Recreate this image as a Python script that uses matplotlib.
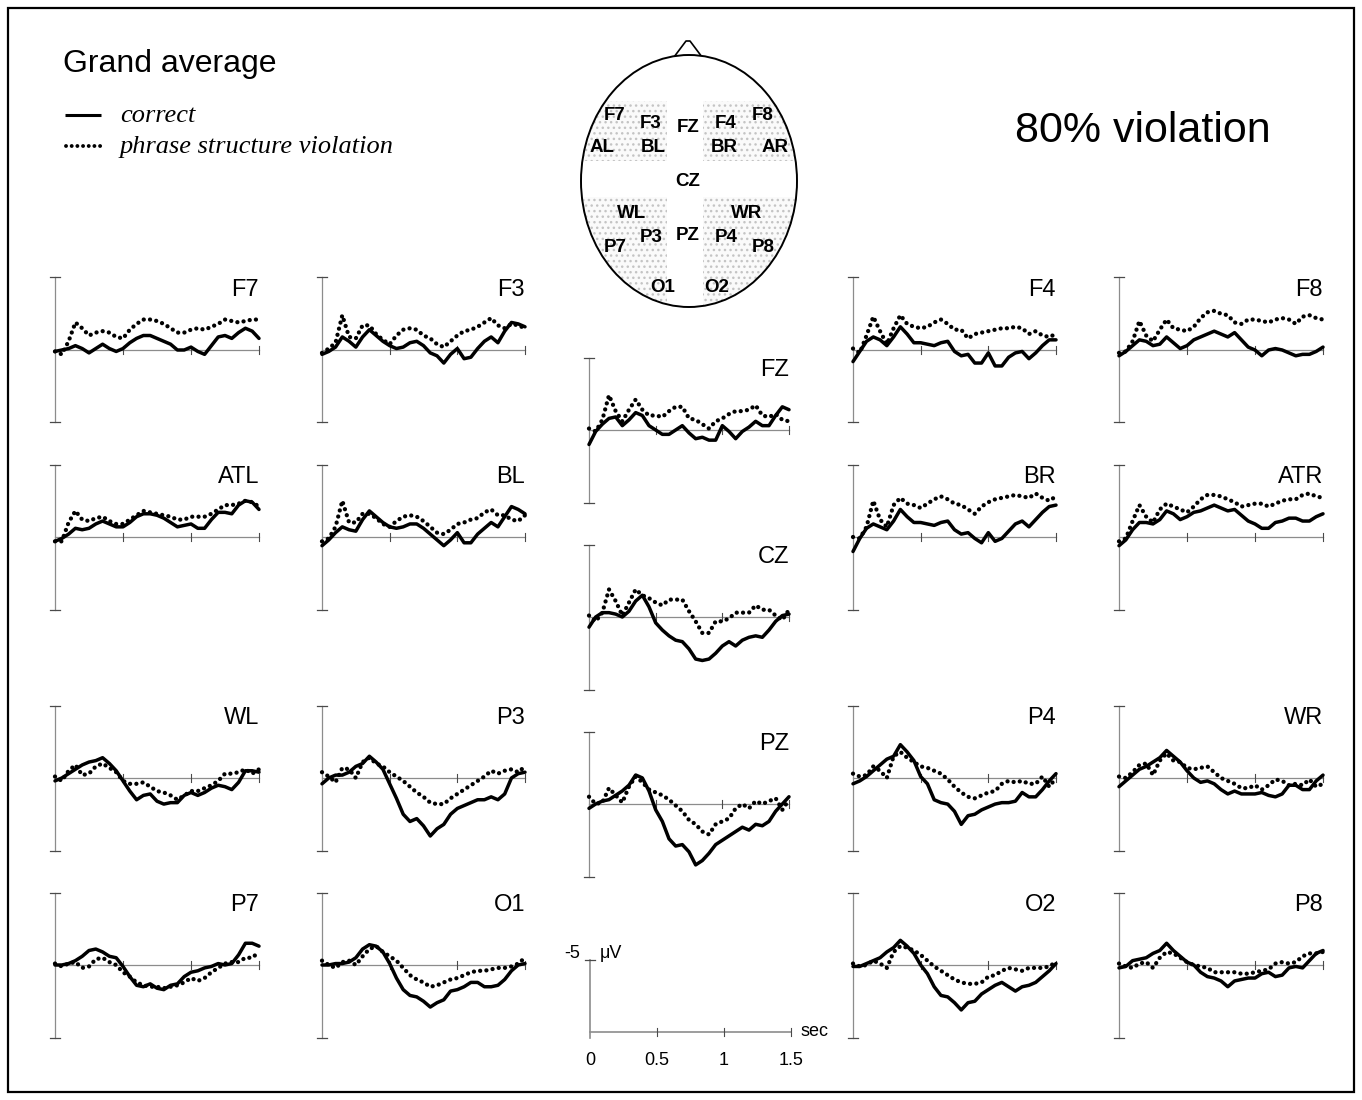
import numpy as np
import matplotlib
matplotlib.use("Agg")
import matplotlib.pyplot as plt
from matplotlib.patches import Ellipse, Rectangle, Polygon

# ---------------- data (µV, negative plotted upward) ----------------
TIME = np.round(np.arange(31) * 0.05, 2)   # 0 ... 1.5 s

F7_correct = [0.1, 0.0, -0.1, -0.3, -0.1, 0.2, -0.1, -0.4, -0.1, 0.1, -0.1, -0.5, -0.8, -1.0, -1.0, -0.8, -0.6, -0.4, 0.0, 0.0, -0.2, 0.1, 0.3, -0.3, -0.9, -1.0, -0.8, -1.2, -1.5, -1.3, -0.8]
F7_violation = [0.1, 0.3, -0.6, -1.9, -1.5, -1.0, -1.2, -1.3, -1.2, -0.9, -0.8, -1.4, -1.8, -2.1, -2.1, -2.0, -1.8, -1.5, -1.2, -1.2, -1.4, -1.5, -1.4, -1.6, -1.8, -2.1, -2.0, -1.9, -2.0, -2.1, -2.1]
F3_correct = [0.3, 0.1, -0.2, -0.9, -0.6, -0.2, -0.9, -1.4, -1.0, -0.6, -0.3, -0.1, -0.2, -0.5, -0.6, -0.3, 0.2, 0.4, 0.9, 0.3, -0.1, 0.6, 0.5, -0.1, -0.6, -0.9, -0.5, -1.3, -1.9, -1.8, -1.6]
F3_violation = [0.2, -0.1, -0.5, -2.4, -0.9, -0.8, -1.7, -1.7, -1.1, -0.7, -0.4, -1.0, -1.4, -1.5, -1.4, -1.0, -0.8, -0.4, -0.2, -0.6, -1.0, -1.3, -1.4, -1.6, -1.9, -2.2, -1.7, -1.5, -1.8, -1.7, -1.5]
ATL_correct = [0.3, 0.1, -0.2, -0.6, -0.5, -0.6, -0.9, -1.1, -0.9, -0.7, -0.7, -1.0, -1.4, -1.6, -1.6, -1.5, -1.3, -1.0, -0.7, -0.8, -0.9, -0.6, -0.6, -1.2, -1.7, -1.7, -1.6, -2.2, -2.5, -2.4, -1.9]
ATL_violation = [0.3, 0.3, -1.0, -1.8, -1.2, -1.1, -1.3, -1.4, -1.1, -0.9, -0.9, -1.2, -1.5, -1.8, -1.7, -1.6, -1.5, -1.4, -1.2, -1.2, -1.4, -1.4, -1.4, -1.6, -1.9, -2.2, -2.2, -2.3, -2.5, -2.4, -2.1]
BL_correct = [0.6, 0.2, -0.3, -0.7, -0.5, -0.4, -1.2, -1.8, -1.4, -1.0, -0.7, -0.6, -0.7, -0.9, -0.9, -0.6, -0.2, 0.2, 0.6, 0.2, -0.3, 0.4, 0.4, -0.2, -0.6, -1.0, -0.7, -1.4, -2.1, -1.9, -1.6]
BL_violation = [0.3, 0.1, -0.7, -2.5, -1.0, -1.0, -1.6, -1.6, -1.3, -0.9, -0.7, -1.1, -1.4, -1.5, -1.4, -1.1, -0.7, -0.3, -0.2, -0.5, -0.9, -1.0, -1.2, -1.3, -1.7, -1.9, -1.5, -1.5, -1.2, -1.1, -1.5]
F4_correct = [0.8, 0.1, -0.6, -0.9, -0.7, -0.3, -0.9, -1.6, -1.1, -0.5, -0.5, -0.4, -0.3, -0.5, -0.6, 0.1, 0.4, 0.3, 0.9, 0.9, 0.2, 1.1, 1.1, 0.5, 0.2, 0.1, 0.6, 0.2, -0.3, -0.7, -0.7]
F4_violation = [-0.1, 0.2, -1.0, -2.3, -1.3, -0.4, -1.5, -2.4, -1.8, -1.6, -1.5, -1.6, -1.9, -2.1, -1.8, -1.4, -1.4, -0.8, -1.1, -1.2, -1.3, -1.4, -1.5, -1.5, -1.6, -1.5, -1.1, -1.3, -1.0, -0.9, -1.1]
F8_correct = [0.4, 0.1, -0.3, -0.7, -0.6, -0.3, -0.4, -0.9, -0.5, -0.1, -0.3, -0.7, -0.9, -1.1, -1.3, -1.1, -0.9, -1.2, -0.7, -0.2, 0.0, 0.4, 0.0, -0.1, 0.0, 0.2, 0.4, 0.3, 0.3, 0.1, -0.2]
F8_violation = [0.2, 0.1, -0.6, -2.0, -1.0, -0.6, -1.4, -2.1, -1.5, -1.4, -1.3, -1.6, -2.2, -2.6, -2.7, -2.5, -2.4, -1.9, -1.8, -2.1, -2.1, -2.0, -1.9, -2.1, -2.2, -2.1, -1.8, -2.3, -2.4, -2.2, -2.1]
BR_correct = [1.0, 0.1, -0.6, -0.9, -0.7, -0.5, -1.1, -1.9, -1.4, -1.0, -1.0, -0.9, -0.8, -1.0, -1.1, -0.5, -0.2, -0.3, 0.1, 0.4, -0.3, 0.3, 0.1, -0.4, -0.9, -1.1, -0.7, -1.2, -1.7, -2.1, -2.2]
BR_violation = [0.0, 0.1, -0.7, -2.5, -1.2, -0.7, -2.2, -2.7, -2.3, -2.2, -2.0, -2.3, -2.6, -2.8, -2.6, -2.3, -2.2, -1.9, -1.6, -2.1, -2.4, -2.6, -2.7, -2.8, -2.9, -2.8, -2.7, -3.0, -2.7, -2.5, -2.8]
ATR_correct = [0.6, 0.2, -0.5, -1.0, -1.0, -0.9, -1.2, -1.8, -1.6, -1.2, -1.4, -1.7, -1.8, -2.0, -2.2, -2.0, -1.8, -1.9, -1.5, -1.1, -0.9, -0.6, -0.6, -1.0, -1.1, -1.3, -1.3, -1.1, -1.1, -1.4, -1.6]
ATR_violation = [0.3, 0.1, -1.1, -2.2, -1.4, -1.0, -1.9, -2.3, -2.1, -1.9, -1.7, -2.1, -2.6, -2.9, -2.9, -2.8, -2.6, -2.4, -2.1, -2.2, -2.3, -2.3, -2.1, -2.3, -2.5, -2.6, -2.6, -2.9, -3.0, -2.8, -2.7]
FZ_correct = [1.0, 0.1, -0.4, -0.8, -0.9, -0.3, -0.7, -1.2, -1.0, -0.3, 0.0, 0.3, 0.3, 0.0, -0.3, 0.2, 0.6, 0.5, 0.7, 0.7, -0.3, 0.1, 0.6, 0.1, -0.2, -0.6, -0.3, -0.3, -1.0, -1.6, -1.4]
FZ_violation = [-0.1, 0.1, -0.7, -2.4, -1.3, -0.6, -1.4, -2.1, -1.4, -1.0, -1.0, -0.9, -1.3, -1.6, -1.6, -0.8, -0.7, -0.4, -0.1, -0.6, -0.8, -1.1, -1.3, -1.3, -1.4, -1.7, -1.0, -0.9, -1.1, -0.7, -0.6]
CZ_correct = [0.7, 0.0, -0.3, -0.3, -0.2, 0.0, -0.4, -1.1, -1.5, -0.7, 0.4, 0.9, 1.3, 1.6, 1.7, 2.2, 2.9, 3.0, 2.9, 2.5, 2.0, 1.7, 2.0, 1.6, 1.4, 1.3, 1.4, 0.9, 0.3, -0.1, -0.2]
CZ_violation = [-0.1, 0.3, -0.3, -1.9, -1.1, -0.1, -1.0, -1.9, -1.5, -1.3, -1.0, -0.8, -1.2, -1.2, -1.2, -0.4, 0.3, 1.1, 1.1, 0.3, 0.3, 0.1, -0.3, -0.3, -0.3, -0.8, -0.5, -0.5, -0.1, 0.2, -0.5]
PZ_correct = [0.3, 0.0, -0.2, -0.3, -0.6, -0.9, -1.3, -2.0, -1.8, -0.9, 0.4, 1.2, 2.4, 2.9, 2.8, 3.3, 4.2, 3.9, 3.4, 2.8, 2.5, 2.2, 1.9, 1.6, 1.8, 1.4, 1.5, 1.2, 0.5, 0.0, -0.5]
PZ_violation = [-0.5, 0.0, -0.1, -1.1, -0.6, -0.1, -1.2, -1.9, -1.5, -1.0, -0.8, -0.6, -0.3, 0.1, 0.5, 1.1, 1.4, 1.9, 2.1, 1.4, 1.2, 1.0, 0.3, 0.0, 0.3, -0.2, 0.0, -0.2, -0.4, 0.4, -0.3]
WL_correct = [0.2, 0.0, -0.3, -0.6, -0.9, -1.1, -1.2, -1.4, -1.0, -0.5, 0.2, 0.9, 1.5, 1.2, 1.1, 1.6, 1.8, 1.7, 1.7, 1.2, 1.0, 1.2, 1.0, 0.7, 0.5, 0.6, 0.8, 0.3, -0.5, -0.5, -0.4]
WL_violation = [-0.1, 0.2, -0.5, -0.9, -0.2, -0.3, -0.8, -1.0, -0.7, -0.4, 0.2, 0.4, 0.4, 0.3, 0.6, 0.9, 1.0, 1.2, 1.5, 1.2, 0.9, 0.9, 0.7, 0.5, 0.2, -0.3, -0.3, -0.4, -0.6, -0.3, -0.6]
P3_correct = [0.4, 0.0, -0.2, -0.2, -0.4, -0.8, -1.0, -1.5, -1.1, -0.6, 0.4, 1.4, 2.5, 3.0, 2.8, 3.3, 4.0, 3.5, 3.2, 2.5, 2.1, 1.9, 1.7, 1.5, 1.5, 1.3, 1.5, 1.1, 0.0, -0.3, -0.4]
P3_violation = [-0.4, -0.1, 0.3, -0.7, -0.6, 0.0, -1.1, -1.4, -1.0, -0.8, -0.4, -0.1, 0.2, 0.6, 1.0, 1.3, 1.7, 1.8, 1.8, 1.4, 1.1, 0.8, 0.5, 0.2, -0.1, -0.5, -0.3, -0.5, -0.6, -0.4, -0.8]
P7_correct = [0.0, 0.0, -0.1, -0.3, -0.6, -1.0, -1.1, -0.9, -0.6, -0.5, 0.1, 0.8, 1.4, 1.5, 1.3, 1.6, 1.7, 1.4, 1.3, 0.8, 0.5, 0.4, 0.2, 0.1, -0.1, 0.0, -0.1, -0.7, -1.5, -1.5, -1.3]
P7_violation = [-0.1, 0.1, -0.1, -0.2, 0.2, 0.1, -0.4, -0.5, -0.2, 0.0, 0.5, 0.8, 1.2, 1.4, 1.5, 1.5, 1.6, 1.5, 1.4, 1.2, 0.9, 1.1, 0.9, 0.5, 0.2, -0.1, -0.2, -0.2, -0.5, -0.5, -0.9]
O1_correct = [0.0, 0.0, -0.1, -0.1, -0.2, -0.5, -1.1, -1.4, -1.3, -0.9, -0.1, 0.9, 1.7, 2.1, 2.2, 2.5, 2.9, 2.6, 2.4, 1.8, 1.7, 1.5, 1.2, 1.2, 1.5, 1.5, 1.4, 1.0, 0.4, 0.0, -0.1]
O1_violation = [-0.3, 0.0, 0.2, -0.2, -0.3, 0.0, -0.6, -1.1, -1.3, -0.9, -0.6, -0.3, 0.2, 0.7, 1.0, 1.2, 1.5, 1.4, 1.2, 1.0, 0.9, 0.7, 0.5, 0.4, 0.4, 0.3, 0.2, 0.2, 0.1, -0.1, -0.5]
P4_correct = [0.4, 0.2, -0.1, -0.5, -0.9, -1.3, -1.5, -2.3, -1.8, -1.2, -0.1, 0.4, 1.5, 1.7, 1.8, 2.3, 3.2, 2.6, 2.5, 2.2, 2.0, 1.8, 1.7, 1.7, 1.6, 1.0, 1.3, 1.3, 0.8, 0.2, -0.3]
P4_violation = [-0.3, -0.1, -0.2, -0.8, -0.5, 0.0, -1.5, -1.8, -1.4, -1.1, -0.8, -0.7, -0.5, -0.3, 0.1, 0.6, 1.0, 1.3, 1.4, 1.2, 1.0, 0.9, 0.4, 0.2, 0.3, 0.2, 0.4, 0.4, -0.1, 0.6, 0.0]
WR_correct = [0.6, 0.2, -0.2, -0.6, -0.8, -1.1, -1.4, -1.9, -1.5, -1.1, -0.5, 0.0, 0.3, 0.2, 0.4, 0.8, 1.1, 0.9, 1.1, 1.1, 1.1, 1.0, 1.2, 1.3, 1.1, 0.5, 0.5, 0.8, 0.8, 0.2, -0.2]
WR_violation = [-0.1, 0.0, -0.4, -0.9, -1.0, -0.2, -1.2, -1.7, -1.2, -1.1, -0.7, -0.6, -0.7, -0.8, -0.4, 0.0, 0.2, 0.4, 0.7, 0.7, 0.5, 0.8, 0.5, 0.1, 0.2, 0.5, 0.4, 0.5, 0.1, 0.6, 0.4]
O2_correct = [0.1, 0.1, -0.1, -0.3, -0.5, -0.9, -1.2, -1.7, -1.3, -0.8, 0.0, 0.6, 1.5, 2.1, 2.2, 2.6, 3.1, 2.6, 2.5, 2.0, 1.7, 1.4, 1.2, 1.5, 1.8, 1.5, 1.4, 1.2, 0.8, 0.4, -0.1]
O2_violation = [-0.1, 0.1, 0.0, -0.3, -0.1, 0.2, -0.9, -1.3, -1.2, -1.0, -0.7, -0.3, 0.1, 0.4, 0.7, 1.0, 1.2, 1.3, 1.3, 1.2, 0.8, 0.7, 0.4, 0.2, 0.3, 0.4, 0.2, 0.2, 0.2, 0.1, -0.2]
P8_correct = [0.2, 0.1, -0.3, -0.4, -0.5, -0.8, -1.0, -1.5, -1.0, -0.6, -0.2, 0.0, 0.5, 0.8, 0.9, 1.1, 1.5, 1.1, 1.0, 0.9, 0.9, 0.6, 0.5, 0.8, 0.7, 0.2, 0.1, 0.2, -0.3, -0.8, -1.0]
P8_violation = [-0.1, 0.1, 0.2, -0.1, -0.2, 0.2, -0.5, -0.9, -0.8, -0.5, -0.2, 0.0, 0.1, 0.2, 0.5, 0.5, 0.5, 0.5, 0.6, 0.6, 0.5, 0.4, 0.3, -0.1, -0.2, -0.1, -0.2, -0.6, -0.8, -0.8, -0.9]

SCALE_TICKS = [0, 0.5, 1, 1.5]
SCALE_TICK_LABELS = ["0", "0.5", "1", "1.5"]

ELECTRODES = ["F7", "F3", "FZ", "F4", "F8", "AL", "BL", "BR", "AR", "CZ",
              "WL", "WR", "P7", "P3", "PZ", "P4", "P8", "O1", "O2"]

# ---------------- layout (pixels) ----------------
W, H = 1362, 1100
COLS = {1: (55, 204), 2: (322, 203), 3: (589, 200), 4: (853, 203), 5: (1119, 204)}
ROW_BASE = {"r1": 350, "r2": 537, "fz": 430, "cz": 617, "pz": 804, "r3": 778, "r4": 965}

panels = [
    ("F7", F7_correct, F7_violation, 1, "r1"),
    ("F3", F3_correct, F3_violation, 2, "r1"),
    ("F4", F4_correct, F4_violation, 4, "r1"),
    ("F8", F8_correct, F8_violation, 5, "r1"),
    ("ATL", ATL_correct, ATL_violation, 1, "r2"),
    ("BL", BL_correct, BL_violation, 2, "r2"),
    ("BR", BR_correct, BR_violation, 4, "r2"),
    ("ATR", ATR_correct, ATR_violation, 5, "r2"),
    ("FZ", FZ_correct, FZ_violation, 3, "fz"),
    ("CZ", CZ_correct, CZ_violation, 3, "cz"),
    ("PZ", PZ_correct, PZ_violation, 3, "pz"),
    ("WL", WL_correct, WL_violation, 1, "r3"),
    ("P3", P3_correct, P3_violation, 2, "r3"),
    ("P4", P4_correct, P4_violation, 4, "r3"),
    ("WR", WR_correct, WR_violation, 5, "r3"),
    ("P7", P7_correct, P7_violation, 1, "r4"),
    ("O1", O1_correct, O1_violation, 2, "r4"),
    ("O2", O2_correct, O2_violation, 4, "r4"),
    ("P8", P8_correct, P8_violation, 5, "r4"),
]

SANS = "Liberation Sans"
SERIF = "Liberation Serif"
AXCOL = "#8c8c8c"
CAPCOL = "#4a4a4a"
PX_PER_UV = 14.5

fig = plt.figure(figsize=(W / 100, H / 100), dpi=100)
fig.patch.set_facecolor("white")

# overlay in pixel coordinates
ov = fig.add_axes([0, 0, 1, 1])
ov.set_xlim(0, W)
ov.set_ylim(H, 0)
ov.axis("off")

ov.add_patch(Rectangle((8, 8), 1346, 1084, fill=False, edgecolor="black", lw=1.6))

ov.text(63, 72, "Grand average", fontsize=23, family=SANS, va="baseline", ha="left")
ov.plot([65, 101], [115, 115], color="black", lw=2.2, solid_capstyle="butt")
ov.plot([66, 101], [146, 146], color="black", lw=2.8, linestyle=(0, (0.01, 1.45)),
        dash_capstyle="round")
ov.text(120, 122, "correct", fontsize=19, family=SERIF, style="italic", va="baseline")
ov.text(120, 153, "phrase structure violation", fontsize=19, family=SERIF, style="italic",
        va="baseline")
ov.text(1015, 142, "80% violation", fontsize=31, family=SANS, va="baseline")

# head schematic
nose = Polygon([(674, 57), (686, 41), (690, 41), (702, 57)], closed=False, fill=False,
               edgecolor="black", lw=1.2, joinstyle="round")
ov.add_patch(nose)
head = Ellipse((689, 181), 216, 252, facecolor="white", edgecolor="none")
ov.add_patch(head)
for (rx, ry, rw, rh) in [(575, 101, 92, 60), (703, 101, 100, 60),
                          (575, 197, 92, 110), (703, 197, 100, 110)]:
    r = Rectangle((rx, ry), rw, rh, facecolor="#fafafa", edgecolor="#c4c4c4",
                  hatch="...", lw=0)
    ov.add_patch(r)
    r.set_clip_path(head)
ov.add_patch(Ellipse((689, 181), 216, 252, fill=False, edgecolor="black", lw=1.4))

ELEC_POS = {"F7": (615, 116), "F3": (651, 124), "FZ": (688, 128), "F4": (726, 124),
            "F8": (763, 115), "AL": (602, 147), "BL": (653, 148), "BR": (724, 148),
            "AR": (775, 147), "CZ": (688, 182), "WL": (632, 213), "WR": (747, 213),
            "P7": (615, 247), "P3": (651, 238), "PZ": (688, 235), "P4": (726, 238),
            "P8": (763, 248), "O1": (663, 287), "O2": (717, 287)}
for e in ELECTRODES:
    x, y = ELEC_POS[e]
    ov.text(x, y, e, fontsize=13.5, fontweight="bold", family=SANS, ha="center",
            va="center")


def make_axes(x0, width, base):
    ax = fig.add_axes([x0 / W, 1 - (base + 72.5) / H, width / W, 145 / H])
    ax.set_xlim(0, 1.5)
    ax.set_ylim(5, -5)
    ax.axis("off")
    return ax


for name, corr, viol, col, row in panels:
    x0, width = COLS[col]
    base = ROW_BASE[row]
    ax = make_axes(x0, width, base)
    dx = 5 * 1.5 / width          # 5 px in seconds
    dy = 4 / PX_PER_UV            # 4 px in µV
    ax.plot([0, 0], [-5, 5], color=AXCOL, lw=0.9, clip_on=False)
    ax.plot([-dx, dx], [-5, -5], color=CAPCOL, lw=0.9, clip_on=False)
    ax.plot([-dx, dx], [5, 5], color=CAPCOL, lw=0.9, clip_on=False)
    ax.plot([0, 1.5], [0, 0], color=AXCOL, lw=0.9, clip_on=False)
    for tk in (0.5, 1.0, 1.5):
        ax.plot([tk, tk], [-dy, dy], color=CAPCOL, lw=0.8, clip_on=False)
    ax.plot(TIME, corr, color="black", lw=2.5, solid_joinstyle="round",
            solid_capstyle="round", clip_on=False)
    ax.plot(TIME, viol, color="black", lw=3.1, linestyle=(0, (0.01, 1.45)),
            dash_capstyle="round", clip_on=False)
    ax.text(1.5, -3.7, name, fontsize=17, family=SANS, ha="right", va="baseline")

# calibration panel
sx0, swidth = 590, 201
sax = make_axes(sx0, swidth, 1032)
dx = 5 * 1.5 / swidth
dy = 4 / PX_PER_UV
sax.plot([0, 0], [-5, 0.4], color=AXCOL, lw=1.2, clip_on=False)
sax.plot([-dx, dx], [-5, -5], color=CAPCOL, lw=0.9, clip_on=False)
sax.plot([0, 1.5], [0, 0], color=AXCOL, lw=1.2, clip_on=False)
for tk in SCALE_TICKS[1:]:
    sax.plot([tk, tk], [-dy, dy], color=CAPCOL, lw=0.8, clip_on=False)
for tk, lab in zip(SCALE_TICKS, SCALE_TICK_LABELS):
    sax.text(tk, 1.95, lab, fontsize=13, family=SANS, ha="center", va="center")
sax.text(-0.07, -5.4, "-5", fontsize=13, family=SANS, ha="right", va="center")
sax.text(0.075, -5.4, "\u03bcV", fontsize=13, family=SANS, ha="left", va="center")
sax.text(1.57, 0.0, "sec", fontsize=13, family=SANS, ha="left", va="center")

fig.savefig("out.png", dpi=100, facecolor="white")
